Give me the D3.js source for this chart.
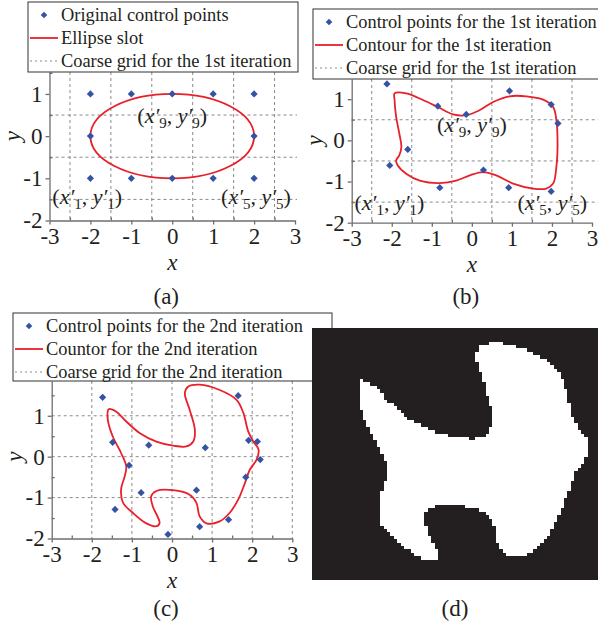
<!DOCTYPE html>
<html>
<head>
<meta charset="utf-8">
<script src="https://cdn.jsdelivr.net/npm/d3@7"></script>
<style>
body { margin: 0; background: #fff; }
svg text { font-family: "Liberation Serif", "Times New Roman", serif; fill: #231f20; }
</style>
</head>
<body>
<script>
const w = 598;
const h = 628;

// tick labels and grid positions
const xTicks = [-3, -2, -1, 0, 1, 2, 3];
const yTicks = [-2, -1, 0, 1];
const halfX = [-2.5, -1.5, -0.5, 0.5, 1.5, 2.5];
const halfY = [-1.5, -0.5, 0.5, 1.5];
const gridIntX = [-2, -1, 0, 1, 2, 3];
const gridIntY = [-1, 0, 1];

// (a) original control points + ellipse slot (centre, radii)
const ptsA_x = [-2, -1, 0, 1, 2, -2, 2, -2, -1, 0, 1, 2];
const ptsA_y = [1, 1, 1, 1, 1, 0, 0, -1, -1, -1, -1, -1];
const ellipseC = [0, 0];
const ellipseR = [2, 1];

// (b) control points + contour, 1st iteration
const ptsB_x = [-2.12, -0.85, -0.14, 0.94, 1.98, 2.15, -1.6, -2.05, 0.29, -0.8, 0.92, 1.98];
const ptsB_y = [1.37, 0.83, 0.63, 1.2, 0.87, 0.41, -0.22, -0.61, -0.72, -1.15, -1.15, -1.24];
const contB_x = [-1.93, -1.64, -1.22, -0.85, -0.47, -0.14, 0.19, 0.53, 0.94, 1.36, 1.78, 2.03, 2.11, 2.14, 2.11, 2.03, 1.86, 1.53, 1.03, 0.61, 0.28, -0.05, -0.39, -0.8, -1.3, -1.64, -1.85, -1.89, -1.81, -1.76, -1.81, -1.89, -1.93];
const contB_y = [1.14, 1.14, 0.98, 0.81, 0.63, 0.61, 0.73, 0.93, 1.07, 1.07, 0.99, 0.81, 0.49, -0.08, -0.65, -1.05, -1.17, -1.17, -1.05, -0.85, -0.77, -0.85, -0.98, -1.04, -0.98, -0.81, -0.61, -0.49, -0.36, -0.16, 0.16, 0.57, 0.98];

// (c) control points + contour, 2nd iteration ((d) is this contour rasterised)
const ptsC_x = [-1.73, 1.65, -1.48, -0.58, 0.83, 1.91, 2.13, 2.2, -1.07, 1.84, -0.77, 0.61, -1.42, 1.41, 0.69, -0.1];
const ptsC_y = [1.45, 1.49, 0.35, 0.28, 0.22, 0.40, 0.37, -0.07, -0.21, -0.5, -0.88, -0.82, -1.29, -1.54, -1.71, -1.9];
const contC_x = [-1.58, -1.39, -1.14, -0.81, -0.39, 0.03, 0.36, 0.53, 0.57, 0.44, 0.32, 0.4, 0.69, 1.19, 1.61, 1.78, 1.9, 2.03, 2.16, 2.11, 1.94, 1.82, 1.65, 1.44, 1.19, 0.86, 0.69, 0.61, 0.44, 0.03, -0.39, -0.52, -0.48, -0.31, -0.39, -0.64, -0.98, -1.22, -1.27, -1.18, -1.14, -1.27, -1.48, -1.6];
const contC_y = [1.16, 1.1, 0.86, 0.58, 0.37, 0.27, 0.25, 0.37, 0.66, 1.15, 1.55, 1.71, 1.76, 1.63, 1.39, 1.07, 0.62, 0.37, 0.17, -0.07, -0.32, -0.64, -1.05, -1.37, -1.58, -1.63, -1.46, -1.13, -0.93, -0.82, -0.84, -0.97, -1.21, -1.62, -1.7, -1.63, -1.37, -1.13, -0.8, -0.48, -0.24, 0.09, 0.5, 0.9];

const legendA = ["Original control points", "Ellipse slot", "Coarse grid for the 1st iteration"];
const legendB = ["Control points for the 1st iteration", "Contour for the 1st iteration", "Coarse grid for the 1st iteration"];
const legendC = ["Control points for the 2nd iteration", "Countor for the 2nd iteration", "Coarse grid for the 2nd iteration"];

const blue = "#3453a4";
const red = "#e8202a";
const gridCol = "#8a8a8a";
const axisCol = "#6d6e71";

const zip = (a, b) => a.map((v, i) => [v, b[i]]);

let svg = d3.select("body").append("svg")
    .attr("width", w)
    .attr("height", h);

function drawPanel(c) {
    const g = svg.append("g");
    const x = d3.scaleLinear().domain([-3, 3]).range(c.xr);
    const y = d3.scaleLinear().domain([-2, c.yTop]).range(c.yr);

    // dashed grid
    g.selectAll("line.gx").data(c.gridX).join("line")
        .attr("x1", d => x(d)).attr("x2", d => x(d))
        .attr("y1", y(c.yTop)).attr("y2", y(-2))
        .attr("stroke", gridCol).attr("stroke-dasharray", "3,3");
    g.selectAll("line.gy").data(c.gridY).join("line")
        .attr("x1", x(-3)).attr("x2", c.gridRight)
        .attr("y1", d => y(d)).attr("y2", d => y(d))
        .attr("stroke", gridCol).attr("stroke-dasharray", "3,3");

    // axes
    const ax = g.append("g").attr("transform", "translate(0," + y(-2) + ")")
        .call(d3.axisBottom(x).tickValues(xTicks).tickFormat(d => d).tickSize(4).tickSizeOuter(0).tickPadding(3));
    const axm = g.append("g").attr("transform", "translate(0," + y(-2) + ")")
        .call(d3.axisBottom(x).tickValues(halfX).tickFormat("").tickSize(-3).tickSizeOuter(0));
    const ay = g.append("g").attr("transform", "translate(" + x(-3) + ",0)")
        .call(d3.axisLeft(y).tickValues(yTicks).tickFormat(d => d).tickSize(4).tickSizeOuter(0).tickPadding(3));
    const aym = g.append("g").attr("transform", "translate(" + x(-3) + ",0)")
        .call(d3.axisLeft(y).tickValues(halfY.filter(v => v < c.yTop)).tickFormat("").tickSize(-3).tickSizeOuter(0));
    axm.select(".domain").remove();
    aym.select(".domain").remove();
    [ax, axm, ay, aym].forEach(a => {
        a.attr("font-family", null).attr("font-size", 23);
        a.selectAll("path, line").attr("stroke", axisCol).attr("stroke-width", 1.3);
        a.selectAll("text").attr("fill", "#231f20");
    });

    g.append("text").attr("x", x(0)).attr("y", y(-2) + 49)
        .attr("text-anchor", "middle").attr("font-size", 23).attr("font-style", "italic").text("x");
    g.append("text").attr("transform", "translate(" + (x(-3) - 30) + "," + y(0) + ") rotate(-90)")
        .attr("text-anchor", "middle").attr("font-size", 23).attr("font-style", "italic").text("y");

    // curve
    if (c.ellipse) {
        g.append("ellipse")
            .attr("cx", x(c.ellipse.c[0])).attr("cy", y(c.ellipse.c[1]))
            .attr("rx", x(c.ellipse.r[0]) - x(0)).attr("ry", y(0) - y(c.ellipse.r[1]))
            .attr("fill", "none").attr("stroke", red).attr("stroke-width", 1.8);
    }
    if (c.contour) {
        g.append("path").datum(c.contour)
            .attr("d", d3.line().x(d => x(d[0])).y(d => y(d[1])).curve(d3.curveCatmullRomClosed.alpha(0.5)))
            .attr("fill", "none").attr("stroke", red).attr("stroke-width", 1.8);
    }

    // control points (diamonds)
    g.selectAll("path.pt").data(c.points).join("path")
        .attr("class", "pt")
        .attr("d", d3.symbol(d3.symbolSquare, 26))
        .attr("transform", d => "translate(" + x(d[0]) + "," + y(d[1]) + ") rotate(45)")
        .attr("fill", blue);

    // point annotations
    (c.annots || []).forEach(a => {
        const t = g.append("text").attr("x", x(a.x)).attr("y", y(a.y))
            .attr("text-anchor", a.anchor).attr("font-size", 22);
        t.append("tspan").text("(");
        t.append("tspan").attr("font-style", "italic").text("x\u2032");
        t.append("tspan").attr("font-size", 15).attr("dy", 5).text(a.s);
        t.append("tspan").attr("dy", -5).text(", ");
        t.append("tspan").attr("font-style", "italic").text("y\u2032");
        t.append("tspan").attr("font-size", 15).attr("dy", 5).text(a.s);
        t.append("tspan").attr("dy", -5).text(")");
    });

    // legend
    const lg = svg.append("g");
    lg.append("rect").attr("x", c.leg.x).attr("y", c.leg.y).attr("width", c.leg.w).attr("height", c.leg.h)
        .attr("fill", "#fff").attr("stroke", "#333").attr("stroke-width", 1);
    const rowY = i => c.leg.y + 13 + i * 23;
    lg.append("path").attr("d", d3.symbol(d3.symbolSquare, 22))
        .attr("transform", "translate(" + (c.leg.x + 16) + "," + rowY(0) + ") rotate(45)").attr("fill", blue);
    lg.append("line").attr("x1", c.leg.x + 2).attr("x2", c.leg.x + 30).attr("y1", rowY(1)).attr("y2", rowY(1))
        .attr("stroke", red).attr("stroke-width", 1.8);
    lg.append("line").attr("x1", c.leg.x + 2).attr("x2", c.leg.x + 30).attr("y1", rowY(2)).attr("y2", rowY(2))
        .attr("stroke", gridCol).attr("stroke-dasharray", "2,3");
    lg.selectAll("text").data(c.labels).join("text")
        .attr("x", c.leg.x + 33).attr("y", (d, i) => rowY(i) + 6)
        .attr("font-size", 18.4).text(d => d);

    svg.append("text").attr("x", x(0) - 6).attr("y", c.tagY)
        .attr("text-anchor", "middle").attr("font-size", 23).text(c.tag);
}

drawPanel({
    xr: [49.5, 295], yr: [220.5, 72], yTop: 1.52,
    gridX: halfX, gridY: [0.5, -0.5, -1.5], gridRight: 297,
    ellipse: {c: ellipseC, r: ellipseR},
    points: zip(ptsA_x, ptsA_y),
    annots: [{s: "9", x: 0, y: 0.32, anchor: "middle"},
             {s: "1", x: -2.93, y: -1.6, anchor: "start"},
             {s: "5", x: 2.9, y: -1.6, anchor: "end"}],
    leg: {x: 28, y: 2, w: 270, h: 70}, labels: legendA,
    tag: "(a)", tagY: 304
});

drawPanel({
    xr: [351.7, 592], yr: [222.7, 79], yTop: 1.49,
    gridX: halfX, gridY: [0.5, -0.5, -1.5], gridRight: 598,
    contour: zip(contB_x, contB_y),
    points: zip(ptsB_x, ptsB_y),
    annots: [{s: "9", x: 0, y: 0.2, anchor: "middle"},
             {s: "1", x: -2.93, y: -1.7, anchor: "start"},
             {s: "5", x: 2.88, y: -1.7, anchor: "end"}],
    leg: {x: 313, y: 9, w: 300, h: 70}, labels: legendB,
    tag: "(b)", tagY: 304
});

drawPanel({
    xr: [51.7, 292.3], yr: [538.5, 381], yTop: 1.85,
    gridX: gridIntX, gridY: gridIntY, gridRight: 292.3,
    contour: zip(contC_x, contC_y),
    points: zip(ptsC_x, ptsC_y),
    leg: {x: 13, y: 313, w: 319, h: 68}, labels: legendC,
    tag: "(c)", tagY: 616
});

// (d) rasterised 2nd-iteration contour
const dx = d3.scaleLinear().domain([-2.37, 2.32]).range([312, 598]);
const dy = d3.scaleLinear().domain([-2, 2]).range([580, 328]);
svg.append("rect").attr("x", dx(-2.37)).attr("y", dy(2))
    .attr("width", dx(2.32) - dx(-2.37)).attr("height", dy(-2) - dy(2)).attr("fill", "#231f20");

const cols = 84, rows = 74;
const gx = d3.scaleLinear().domain([0, cols]).range(dx.range());
const gy = d3.scaleLinear().domain([0, rows]).range([dy(2), dy(-2)]);
const shape = new Path2D(d3.line().x(d => dx(d[0])).y(d => dy(d[1]))
    .curve(d3.curveCatmullRomClosed.alpha(0.5))(zip(contC_x, contC_y)));
const cv = document.createElement("canvas");
cv.width = w; cv.height = h;
const ctx = cv.getContext("2d");
const runs = [];
for (let r = 0; r < rows; r++) {
    let start = -1;
    for (let c = 0; c <= cols; c++) {
        const inside = c < cols && ctx.isPointInPath(shape, gx(c + 0.5), gy(r + 0.5));
        if (inside && start < 0) start = c;
        if (!inside && start >= 0) { runs.push({r: r, c0: start, c1: c}); start = -1; }
    }
}
svg.append("g").selectAll("rect").data(runs).join("rect")
    .attr("x", d => Math.round(gx(d.c0)))
    .attr("y", d => Math.round(gy(d.r)))
    .attr("width", d => Math.round(gx(d.c1)) - Math.round(gx(d.c0)))
    .attr("height", d => Math.round(gy(d.r + 1)) - Math.round(gy(d.r)))
    .attr("fill", "#fff")
    .attr("shape-rendering", "crispEdges");

svg.append("text").attr("x", 455).attr("y", 616)
    .attr("text-anchor", "middle").attr("font-size", 23).text("(d)");
</script>
</body>
</html>
